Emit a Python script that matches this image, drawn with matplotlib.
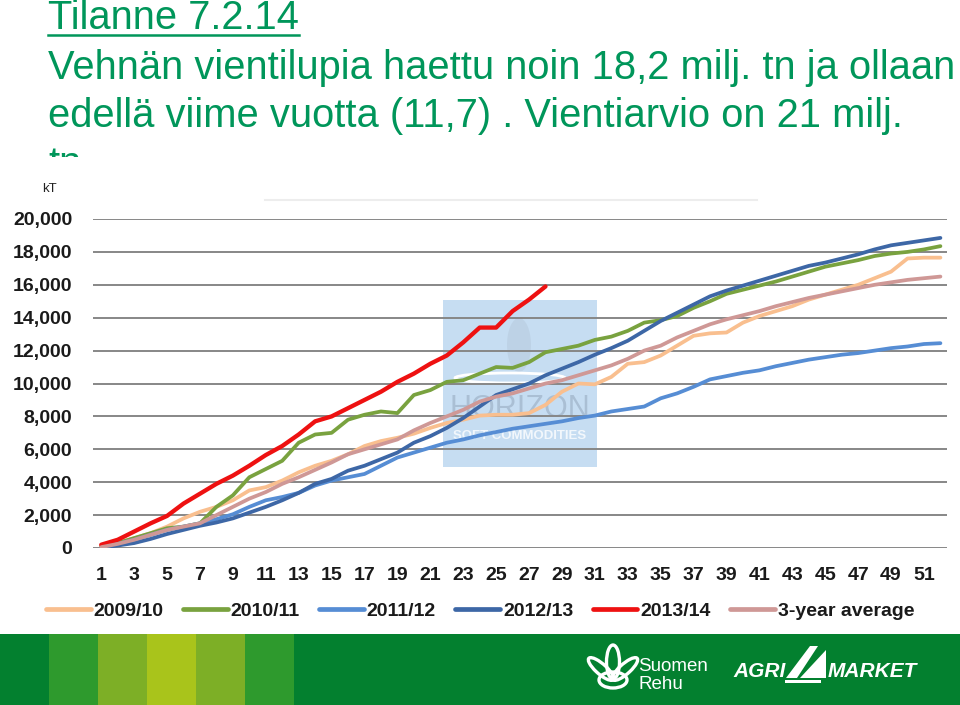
import matplotlib
matplotlib.use('Agg')
import matplotlib.pyplot as plt
from matplotlib.patches import Rectangle, Ellipse, Polygon
from matplotlib.lines import Line2D
from matplotlib.ticker import FuncFormatter

# weekly cumulative export licences, kT
weeks = list(range(1, 53))
y2009 = [100, 300, 600, 900, 1300, 1800, 2200, 2500, 2900, 3500, 3700, 4100, 4600, 5000,
         5300, 5700, 6200, 6500, 6700, 6950, 7300, 7600, 7800, 8050, 8100, 8100, 8200, 8700,
         9500, 10000, 9950, 10400, 11200, 11300, 11700, 12300, 12900, 13050, 13100, 13700,
         14100, 14400, 14700, 15100, 15400, 15700, 16000, 16400, 16800, 17600, 17650, 17650]
y2010 = [100, 300, 600, 900, 1200, 1300, 1500, 2500, 3200, 4300, 4800, 5300, 6400, 6900,
         7000, 7800, 8100, 8300, 8200, 9300, 9600, 10100, 10200, 10600, 11000, 10950, 11300,
         11900, 12100, 12300, 12650, 12850, 13200, 13700, 13850, 14100, 14600, 15000, 15450,
         15700, 15950, 16200, 16500, 16800, 17100, 17300, 17500, 17750, 17900, 18000, 18150, 18350]
y2011 = [0, 250, 500, 800, 1100, 1300, 1500, 1750, 2050, 2500, 2900, 3100, 3350, 3800,
         4100, 4300, 4500, 5000, 5500, 5800, 6100, 6400, 6600, 6850, 7050, 7250, 7400, 7550,
         7700, 7900, 8050, 8300, 8450, 8600, 9100, 9400, 9800, 10250, 10450, 10650, 10800,
         11050, 11250, 11450, 11600, 11750, 11850, 12000, 12150, 12250, 12400, 12450]
y2012 = [0, 150, 300, 550, 850, 1100, 1350, 1550, 1800, 2150, 2500, 2900, 3350, 3900,
         4200, 4700, 5000, 5400, 5800, 6400, 6800, 7300, 7900, 8600, 9300, 9650, 10000, 10500,
         10900, 11300, 11750, 12150, 12600, 13200, 13800, 14300, 14800, 15300, 15650, 15950,
         16250, 16550, 16850, 17150, 17350, 17600, 17850, 18150, 18400, 18550, 18700, 18850]
y2013 = [200, 500, 1000, 1500, 1950, 2700, 3300, 3900, 4400, 5000, 5650, 6200, 6900, 7700,
         8000, 8500, 9000, 9500, 10100, 10600, 11200, 11700, 12500, 13400, 13400, 14400,
         15100, 15900]
y_avg = [50, 250, 500, 800, 1100, 1300, 1500, 2000, 2500, 3000, 3400, 3900, 4300, 4750,
         5200, 5700, 6000, 6300, 6600, 7150, 7600, 8000, 8400, 8900, 9200, 9400, 9700, 10000,
         10200, 10500, 10800, 11100, 11500, 12000, 12300, 12800, 13200, 13600, 13900, 14150,
         14400, 14700, 14950, 15200, 15400, 15600, 15800, 16000, 16150, 16300, 16400, 16500]

series = [
    ('2009/10', y2009, '#F9BF8F', 2.7),
    ('2010/11', y2010, '#79A23F', 2.7),
    ('2011/12', y2011, '#568DD4', 2.7),
    ('2012/13', y2012, '#3D67A6', 2.7),
    ('2013/14', y2013, '#EE1111', 3.1),
    ('3-year average', y_avg, '#CF9896', 2.7),
]

W, H = 960, 705
fig = plt.figure(figsize=(W / 100, H / 100), dpi=100)
fig.patch.set_facecolor('white')

def fx(x):
    return x / W

def fy(y):
    return 1 - y / H

green_txt = '#00965A'
title_font = dict(family=['Liberation Sans', 'DejaVu Sans'], color=green_txt, fontsize=28.75)

# slide heading
t1 = fig.text(fx(48), fy(29), 'Tilanne 7.2.14', va='baseline', **title_font)
fig.text(fx(48), fy(79), 'Vehnän vientilupia haettu noin 18,2 milj. tn ja ollaan',
         va='baseline', **title_font)
fig.text(fx(48), fy(127), 'edellä viime vuotta (11,7) . Vientiarvio on 21 milj.',
         va='baseline', **title_font)
fig.text(fx(48), fy(175), 'tn', va='baseline', **title_font)

fig.canvas.draw()
bb = t1.get_window_extent()
fig.add_artist(Line2D([bb.x0 / W, bb.x1 / W], [fy(35), fy(35)], color=green_txt, lw=1.8,
                      transform=fig.transFigure))

# white chart image covers the cut-off last line
fig.add_artist(Rectangle((0, fy(633)), 1, fy(157) - fy(633), transform=fig.transFigure,
                         facecolor='white', edgecolor='none', zorder=3.5))
fig.add_artist(Line2D([fx(265), fx(757)], [fy(200), fy(200)], color='#EDEDED', lw=1.5,
                      transform=fig.transFigure, zorder=3.6))

# bottom green band with stripes
band_green = '#03802F'
fig.add_artist(Rectangle((0, 0), 1, fy(634), transform=fig.transFigure,
                         facecolor=band_green, edgecolor='none', zorder=3.6))
stripes = ['#2E9A2D', '#7DAF26', '#A9C41B', '#7DAF26', '#2E9A2D']
for i, c in enumerate(stripes):
    x0 = 49 + 49 * i
    fig.add_artist(Rectangle((fx(x0), 0), fx(49), fy(634), transform=fig.transFigure,
                             facecolor=c, edgecolor='none', zorder=3.7))

# Suomen Rehu logo
for cx, cy, w, h, ang in [(613, 662, 13, 34, 0), (601, 669, 12, 28, 38), (625, 669, 12, 28, -38)]:
    fig.add_artist(Ellipse((fx(cx), fy(cy)), fx(w), h / H, angle=ang, transform=fig.transFigure,
                           facecolor='none', edgecolor='white', lw=2.4, zorder=3.8))
fig.add_artist(Ellipse((fx(613), fy(680)), fx(28), 16 / H, transform=fig.transFigure,
                       facecolor='none', edgecolor='white', lw=2.4, zorder=3.8))
fig.text(fx(638), fy(671), 'Suomen', color='white', fontsize=13.5, family='Liberation Sans',
         va='baseline', zorder=3.9)
fig.text(fx(638), fy(689), 'Rehu', color='white', fontsize=13.5, family='Liberation Sans',
         va='baseline', zorder=3.9)

# Agri Market logo
fig.text(fx(733), fy(677), 'AGRI', color='white', fontsize=15, family='Liberation Sans',
         weight='bold', style='italic', va='baseline', zorder=3.9)
fig.text(fx(828), fy(677), 'MARKET', color='white', fontsize=15, family='Liberation Sans',
         weight='bold', style='italic', va='baseline', zorder=3.9)
for pts in [[(786, 678), (797, 678), (818, 646), (810, 646)],
            [(800, 678), (826, 678), (826, 650)]]:
    fig.add_artist(Polygon([(fx(a), fy(b)) for a, b in pts], closed=True,
                           transform=fig.transFigure, facecolor='white', edgecolor='none',
                           zorder=3.9))
fig.add_artist(Rectangle((fx(785), fy(683)), fx(36), 3 / H, transform=fig.transFigure,
                         facecolor='white', edgecolor='none', zorder=3.9))

# chart
ax = fig.add_axes([fx(93), fy(548), fx(947) - fx(93), fy(219) - fy(548)])
ax.set_zorder(4)
ax.patch.set_visible(False)

# Horizon watermark
ax.add_artist(Rectangle((fx(443), fy(467)), fx(154), 167 / H, transform=fig.transFigure,
                        facecolor='#C6DDF2', edgecolor='none', zorder=0.1, clip_on=False))
ax.add_artist(Ellipse((fx(519), fy(345)), fx(24), 54 / H, transform=fig.transFigure,
                      facecolor='#B3C6D9', edgecolor='none', alpha=0.45, zorder=0.2, clip_on=False))
ax.add_artist(Ellipse((fx(510), fy(378)), fx(110), 10 / H, transform=fig.transFigure,
                      facecolor='none', edgecolor='white', lw=2, zorder=0.2, clip_on=False))
ax.text(fx(520), fy(409), 'HORIZON', transform=fig.transFigure, ha='center', va='center',
        fontsize=22, color='#AABFD4', family='Liberation Sans', zorder=0.3)
ax.text(fx(520), fy(436), 'SOFT COMMODITIES', transform=fig.transFigure, ha='center',
        va='center', fontsize=9.5, color='#F2F7FC', family='Liberation Sans', weight='bold',
        zorder=0.3)

for name, vals, color, lw in series:
    ax.plot(weeks[:len(vals)], vals, color=color, lw=lw, label=name, zorder=3,
            solid_capstyle='round', solid_joinstyle='round')

ax.set_xlim(0.5, 52.4)
ax.set_ylim(0, 20000)
ax.set_yticks(range(0, 20001, 2000))
ax.yaxis.set_major_formatter(FuncFormatter(lambda v, p: f'{v:,.0f}'))
ax.set_xticks(weeks[::2])
ax.grid(axis='y', color='#878787', lw=1.4)
ax.set_axisbelow(True)
for s in ax.spines.values():
    s.set_visible(False)
ax.tick_params(axis='y', length=0, pad=15)
ax.tick_params(axis='x', length=0, pad=14)
for lab in ax.get_xticklabels() + ax.get_yticklabels():
    lab.set_fontfamily('Liberation Sans')
    lab.set_fontweight('bold')
    lab.set_fontsize(14)
    lab.set_color('#1A1A1A')

fig.text(fx(42), fy(192), 'kT', fontsize=9.5, family='Liberation Sans', color='#222222',
         va='baseline', zorder=5)

leg = ax.legend(loc='center', bbox_to_anchor=(fx(480), fy(611)), bbox_transform=fig.transFigure,
                ncol=6, frameon=False, handlelength=2.3, handletextpad=0.15, columnspacing=1.0,
                borderpad=0, prop=dict(family='Liberation Sans', weight='bold', size=14))
for h in leg.get_lines():
    h.set_linewidth(3.4)
for t in leg.get_texts():
    t.set_color('#1A1A1A')

fig.savefig('out.png', dpi=100)
